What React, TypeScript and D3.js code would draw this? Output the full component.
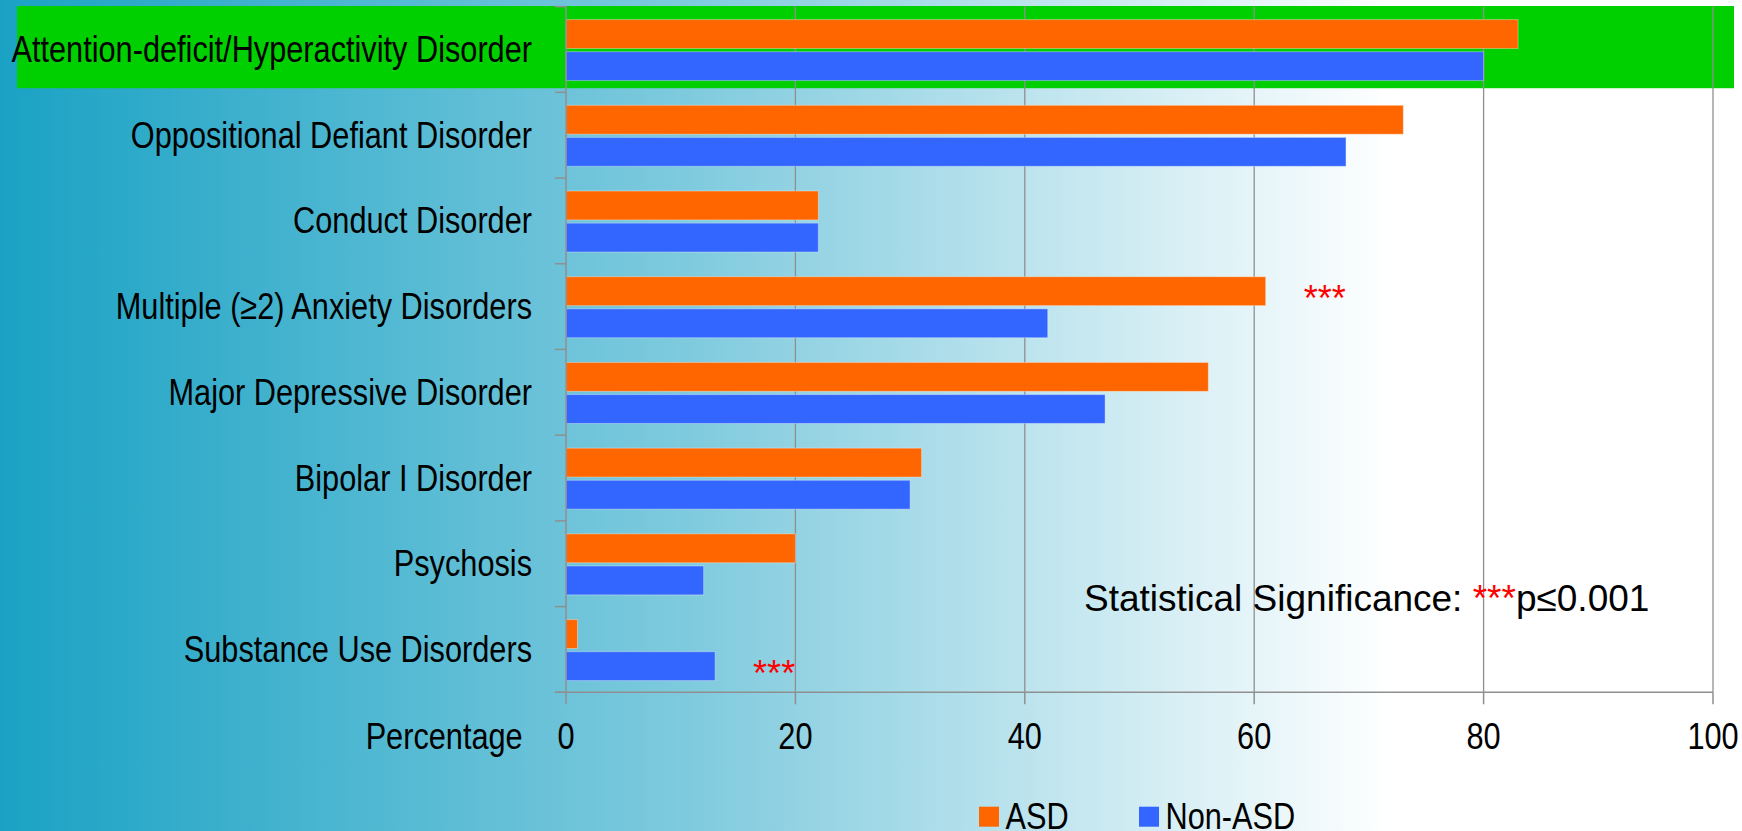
import React from "react";
import * as d3 from "d3";

// Disorder categories, top to bottom
const categories = [
  "Attention-deficit/Hyperactivity Disorder",
  "Oppositional Defiant Disorder",
  "Conduct Disorder",
  "Multiple (\u22652) Anxiety Disorders",
  "Major Depressive Disorder",
  "Bipolar I Disorder",
  "Psychosis",
  "Substance Use Disorders",
];

// Percentage with each disorder
const asdValues = [83, 73, 22, 61, 56, 31, 20, 1];
const nonAsdValues = [80, 68, 22, 42, 47, 30, 12, 13];

const seriesNames = ["ASD", "Non-ASD"];
const seriesColors = ["#FF6600", "#3366FF"];

// Significant differences (p ≤ 0.001): category and the bar the marker sits beside
const significance = [
  { category: "Multiple (\u22652) Anxiety Disorders", series: "ASD" },
  { category: "Substance Use Disorders", series: "Non-ASD" },
];

const xTicks = [0, 20, 40, 60, 80, 100];

const W = 1742;
const H = 831;
const FONT = "'Liberation Sans', Arial, sans-serif";
const NARROW = 0.83;
const LABEL_SIZE = 37;

export default function App() {
  const x = d3.scaleLinear().domain([0, 100]).range([566, 1713]);
  const y = d3.scaleBand<string>().domain(categories).range([6.6, 692.3]);
  const inner = d3
    .scaleBand<string>()
    .domain(seriesNames)
    .range([13, 74])
    .paddingInner(0.1);

  const values: Record<string, number[]> = {
    ASD: asdValues,
    "Non-ASD": nonAsdValues,
  };

  const plotTop = y.range()[0];
  const plotBottom = y.range()[1];
  const gridColor = "#8f8f8f";
  const bandEdges = categories.map((c) => y(c)!).concat([plotBottom]);

  return (
    <svg
      width={W}
      height={H}
      style={{ position: "absolute", left: 0, top: 0, display: "block" }}
      fontFamily={FONT}
    >
      <defs>
        <linearGradient id="bg" x1="0" x2="1" y1="0" y2="0">
          <stop offset="0" stopColor="rgb(26,162,196)" />
          <stop offset="0.4" stopColor="rgb(128,203,222)" />
          <stop offset="0.8" stopColor="#ffffff" />
          <stop offset="1" stopColor="#ffffff" />
        </linearGradient>
      </defs>
      <rect x={0} y={0} width={W} height={H} fill="url(#bg)" />

      {/* highlighted row */}
      <rect
        x={17}
        y={6}
        width={1717}
        height={y.bandwidth() - 3.5}
        fill="#00D000"
      />

      {/* vertical gridlines */}
      {xTicks.slice(1).map((t) => (
        <line
          key={"g" + t}
          x1={x(t)}
          x2={x(t)}
          y1={plotTop}
          y2={plotBottom}
          stroke={gridColor}
          strokeWidth={1.3}
        />
      ))}

      {/* bars */}
      {categories.map((c, i) => (
        <g key={c}>
          {seriesNames.map((s, j) => (
            <rect
              key={s}
              x={x(0)}
              y={y(c)! + inner(s)!}
              width={x(values[s][i]) - x(0)}
              height={inner.bandwidth()}
              fill={seriesColors[j]}
              stroke="rgba(255,255,255,0.35)"
              strokeWidth={1}
            />
          ))}
        </g>
      ))}

      {/* significance markers */}
      {significance.map((m) => {
        const i = categories.indexOf(m.category);
        const v = values[m.series][i];
        const cy = y(m.category)! + inner(m.series)! + inner.bandwidth() / 2;
        return (
          <text
            key={m.category}
            x={x(v) + 38}
            y={cy + 20}
            fontSize={36}
            fill="#FF0000"
          >
            ***
          </text>
        );
      })}

      {/* y axis */}
      <line
        x1={x(0)}
        x2={x(0)}
        y1={plotTop}
        y2={plotBottom}
        stroke={gridColor}
        strokeWidth={1.5}
      />
      {bandEdges.map((e, i) => (
        <line
          key={"yt" + i}
          x1={x(0) - 11}
          x2={x(0)}
          y1={e}
          y2={e}
          stroke={gridColor}
          strokeWidth={1.5}
        />
      ))}

      {/* x axis */}
      <line
        x1={x(0) - 11}
        x2={x(100)}
        y1={plotBottom}
        y2={plotBottom}
        stroke={gridColor}
        strokeWidth={1.5}
      />
      {xTicks.map((t) => (
        <line
          key={"xt" + t}
          x1={x(t)}
          x2={x(t)}
          y1={plotBottom}
          y2={plotBottom + 12}
          stroke={gridColor}
          strokeWidth={1.5}
        />
      ))}

      {/* category labels */}
      {categories.map((c) => (
        <text
          key={"l" + c}
          transform={`translate(532,${y(c)! + y.bandwidth() / 2 + 12.5}) scale(${NARROW},1)`}
          textAnchor="end"
          fontSize={LABEL_SIZE}
          fill="#000"
        >
          {c}
        </text>
      ))}

      {/* tick labels */}
      {xTicks.map((t) => (
        <text
          key={"tl" + t}
          transform={`translate(${x(t)},749) scale(${NARROW},1)`}
          textAnchor="middle"
          fontSize={LABEL_SIZE}
          fill="#000"
        >
          {t}
        </text>
      ))}
      <text
        transform={`translate(522.7,749) scale(${NARROW},1)`}
        textAnchor="end"
        fontSize={LABEL_SIZE}
        fill="#000"
      >
        Percentage
      </text>

      {/* significance note */}
      <text x={1084} y={610.7} fontSize={37} fill="#000">
        Statistical Significance:{" "}
        <tspan fill="#FF0000">***</tspan>
        <tspan>p≤0.001</tspan>
      </text>

      {/* legend */}
      {seriesNames.map((s, j) => {
        const lx = [979, 1139][j];
        return (
          <g key={"lg" + s}>
            <rect x={lx} y={806.7} width={20} height={20} fill={seriesColors[j]} />
            <text
              transform={`translate(${lx + 26.5},829) scale(${NARROW},1)`}
              fontSize={LABEL_SIZE}
              fill="#000"
            >
              {s}
            </text>
          </g>
        );
      })}
    </svg>
  );
}
